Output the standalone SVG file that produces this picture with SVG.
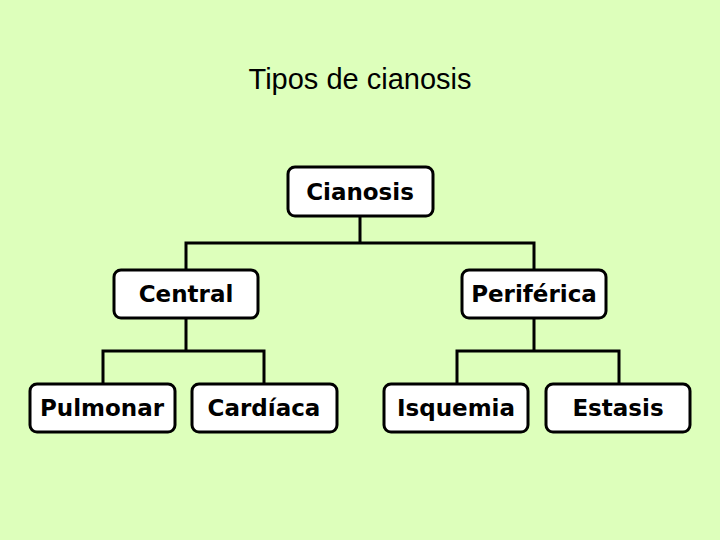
<svg xmlns="http://www.w3.org/2000/svg" width="720" height="540" viewBox="0 0 720 540">
<style>
.b{fill:#fff;stroke:#000;stroke-width:3}
.t{font-family:"DejaVu Sans",Verdana,sans-serif;font-weight:bold;font-size:23px;text-anchor:middle}
.c{fill:none;stroke:#000;stroke-width:3}
</style>
<rect width="720" height="540" fill="#ddffbb"/>
<text x="360" y="89" font-family="Liberation Sans,Arial,sans-serif" font-size="29" text-anchor="middle">Tipos de cianosis</text>
<g id="connectors">
<path class="c" d="M360 216V243M186 270V243H534V270M186 318V351M103 384V351H264V384M534 318V351M457 384V351H619V384"/>
</g>
<g id="n1"><rect class="b" x="288" y="167" width="145" height="49" rx="7"/><text class="t" x="360" y="200">Cianosis</text></g>
<g id="n2"><rect class="b" x="114" y="270" width="144" height="48" rx="7"/><text class="t" x="186" y="302">Central</text></g>
<g id="n3"><rect class="b" x="462" y="270" width="144" height="48" rx="7"/><text class="t" x="534" y="302">Periférica</text></g>
<g id="n4"><rect class="b" x="30" y="384" width="145" height="48" rx="7"/><text class="t" x="102" y="416">Pulmonar</text></g>
<g id="n5"><rect class="b" x="192" y="384" width="145" height="48" rx="7"/><text class="t" x="264" y="416">Cardíaca</text></g>
<g id="n6"><rect class="b" x="384" y="384" width="144" height="48" rx="7"/><text class="t" x="456" y="416">Isquemia</text></g>
<g id="n7"><rect class="b" x="546" y="384" width="144" height="48" rx="7"/><text class="t" x="618" y="416">Estasis</text></g>
</svg>
